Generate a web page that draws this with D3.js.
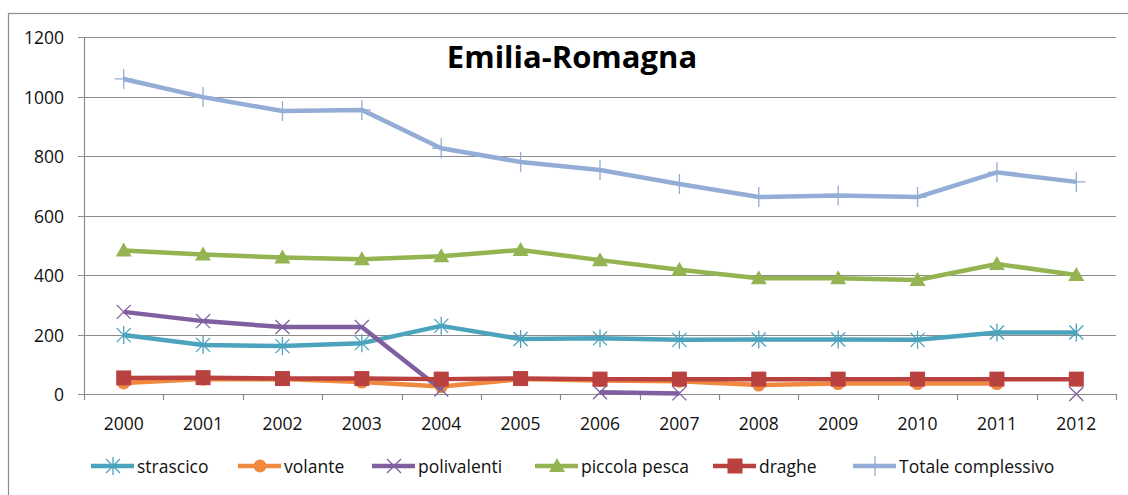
<!DOCTYPE html>
<html>
<head>
<meta charset="utf-8">
<script src="https://cdn.jsdelivr.net/npm/d3@7"></script>
<style>
  html, body { margin: 0; padding: 0; background: #fff; }
  svg { display: block; font-family: 'Open Sans', 'Noto Sans', sans-serif; }
</style>
</head>
<body>
<div id="chart"></div>
<script>
// -- Emilia-Romagna fleet by gear type --
const years = ['2000','2001','2002','2003','2004','2005','2006','2007','2008','2009','2010','2011','2012'];
const strascico = [198, 165, 161, 171, 229, 185, 187, 182, 183, 183, 182, 207, 207];
const volante = [37, 50, 50, 40, 25, 50, 45, 43, 30, 35, 35, 35, null];
const polivalenti = [276, 245, 225, 225, 15, null, 6, 2, null, null, null, null, 0];
const piccolaPesca = [482, 469, 459, 453, 463, 484, 450, 418, 389, 389, 383, 437, 400];
const draghe = [54, 55, 52, 52, 50, 52, 50, 50, 50, 50, 50, 50, 50];
const totale = [1059, 998, 951, 955, 826, 780, 753, 706, 662, 667, 662, 745, 713];
const yTicks = [0, 200, 400, 600, 800, 1000, 1200];

const series = [
  { name: 'strascico', values: strascico, color: '#4BA3BD', marker: 'star' },
  { name: 'volante', values: volante, color: '#F0883E', marker: 'circle' },
  { name: 'polivalenti', values: polivalenti, color: '#7F5F9F', marker: 'cross' },
  { name: 'piccola pesca', values: piccolaPesca, color: '#93B450', marker: 'triangle' },
  { name: 'draghe', values: draghe, color: '#B9413F', marker: 'square' },
  { name: 'Totale complessivo', values: totale, color: '#93ADD6', marker: 'plus' },
];

const width = 1128, height = 495;
const margin = { left: 84, right: 12, top: 37, bottom: 101 };
const labelSize = '17.5px';

const svg = d3.select('#chart').append('svg')
  .attr('width', width)
  .attr('height', height);

// outer chart frame (runs off the right/bottom of the picture)
svg.append('rect')
  .attr('x', 8.5).attr('y', 13.5)
  .attr('width', width + 20).attr('height', height + 20)
  .attr('fill', 'none')
  .attr('stroke', '#8c8c8c')
  .attr('stroke-width', 1.2);

const x = d3.scaleBand()
  .domain(years)
  .range([margin.left, width - margin.right]);

const y = d3.scaleLinear()
  .domain([0, 1200])
  .range([height - margin.bottom, margin.top]);

// gridlines
svg.append('g')
  .selectAll('line')
  .data(yTicks)
  .enter().append('line')
  .attr('x1', margin.left - 6)
  .attr('x2', width - margin.right)
  .attr('y1', d => Math.round(y(d)) + 0.5)
  .attr('y2', d => Math.round(y(d)) + 0.5)
  .attr('stroke', '#8c8c8c')
  .attr('stroke-width', 1.2);

// y axis line
svg.append('line')
  .attr('x1', margin.left + 0.5).attr('x2', margin.left + 0.5)
  .attr('y1', y(1200)).attr('y2', y(0))
  .attr('stroke', '#8c8c8c')
  .attr('stroke-width', 1.2);

// y tick labels
svg.append('g')
  .selectAll('text')
  .data(yTicks)
  .enter().append('text')
  .attr('x', margin.left - 20)
  .attr('y', d => y(d))
  .attr('text-anchor', 'end')
  .attr('dominant-baseline', 'central')
  .attr('font-size', labelSize)
  .attr('fill', '#111')
  .text(d => d);

// x axis ticks between categories
const xTickPos = years.map(d => x(d)).concat([x(years[years.length - 1]) + x.bandwidth()]);
svg.append('g')
  .selectAll('line')
  .data(xTickPos)
  .enter().append('line')
  .attr('x1', d => Math.round(d) + 0.5)
  .attr('x2', d => Math.round(d) + 0.5)
  .attr('y1', y(0))
  .attr('y2', y(0) + 6)
  .attr('stroke', '#8c8c8c')
  .attr('stroke-width', 1.2);

svg.append('g')
  .selectAll('text')
  .data(years)
  .enter().append('text')
  .attr('x', d => x(d) + x.bandwidth() / 2)
  .attr('y', y(0) + 29)
  .attr('text-anchor', 'middle')
  .attr('dominant-baseline', 'central')
  .attr('font-size', labelSize)
  .attr('fill', '#111')
  .text(d => d);

// title
svg.append('text')
  .attr('x', 572)
  .attr('y', 56)
  .attr('text-anchor', 'middle')
  .attr('dominant-baseline', 'central')
  .attr('font-size', '31px')
  .attr('font-weight', 'bold')
  .attr('fill', '#000')
  .text('Emilia-Romagna');

function drawMarker(sel, type, color) {
  if (type === 'circle') {
    sel.append('circle').attr('r', 6.5).attr('fill', color);
  } else if (type === 'square') {
    sel.append('rect').attr('x', -7.5).attr('y', -7.5).attr('width', 15).attr('height', 15).attr('fill', color);
  } else if (type === 'triangle') {
    sel.append('path').attr('d', 'M0,-8L8,6L-8,6Z').attr('fill', color);
  } else if (type === 'cross') {
    sel.append('path').attr('d', 'M-7,-7L7,7M-7,7L7,-7').attr('stroke', color).attr('stroke-width', 1.3).attr('fill', 'none');
  } else if (type === 'star') {
    sel.append('path').attr('d', 'M-7,-7L7,7M-7,7L7,-7M0,-9L0,9').attr('stroke', color).attr('stroke-width', 1.3).attr('fill', 'none');
  } else if (type === 'plus') {
    sel.append('path').attr('d', 'M0,-10L0,10M-9,0L9,0').attr('stroke', color).attr('stroke-width', 1.3).attr('fill', 'none');
  }
}

const line = d3.line()
  .defined(d => d.v !== null)
  .x(d => x(d.year) + x.bandwidth() / 2)
  .y(d => y(d.v));

for (const s of series) {
  const pts = years.map((yr, i) => ({ year: yr, v: s.values[i] }));
  const g = svg.append('g').attr('class', 'series');
  g.append('path')
    .datum(pts)
    .attr('d', line)
    .attr('fill', 'none')
    .attr('stroke', s.color)
    .attr('stroke-width', 4.5)
    .attr('stroke-linejoin', 'round');
  g.selectAll('g.mk')
    .data(pts.filter(d => d.v !== null))
    .enter().append('g')
    .attr('class', 'mk')
    .attr('transform', d => `translate(${x(d.year) + x.bandwidth() / 2},${y(d.v)})`)
    .each(function () { drawMarker(d3.select(this), s.marker, s.color); });
}

// legend
const legendX = [91, 238, 372, 535, 713, 853];
const legendY = 466;
series.forEach((s, i) => {
  const lg = svg.append('g').attr('transform', `translate(${legendX[i]},${legendY})`);
  lg.append('line')
    .attr('x1', 0).attr('x2', 43)
    .attr('y1', 0).attr('y2', 0)
    .attr('stroke', s.color)
    .attr('stroke-width', 4.5);
  drawMarker(lg.append('g').attr('transform', 'translate(22,0)'), s.marker, s.color);
  lg.append('text')
    .attr('x', 46)
    .attr('y', 0)
    .attr('dominant-baseline', 'central')
    .attr('font-size', labelSize)
    .attr('fill', '#111')
    .text(s.name);
});
</script>
</body>
</html>
